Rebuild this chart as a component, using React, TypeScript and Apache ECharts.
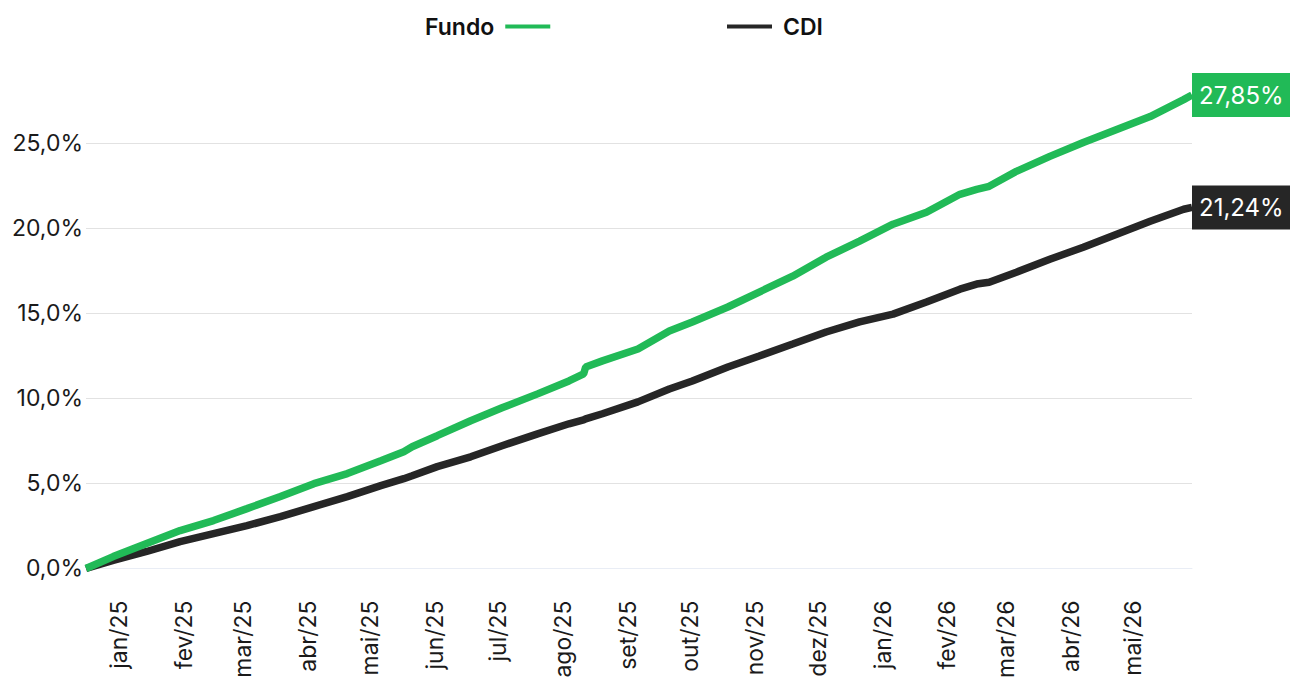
import React, { useEffect, useRef } from "react";
import * as echarts from "echarts";

const dates = [
  "2024-12-16", "2024-12-29", "2025-01-14", "2025-01-30", "2025-02-15",
  "2025-03-03", "2025-03-19", "2025-04-04", "2025-04-20", "2025-05-06",
  "2025-05-17", "2025-05-21", "2025-06-02", "2025-06-18", "2025-07-03",
  "2025-07-20", "2025-08-04", "2025-08-11", "2025-08-12", "2025-08-20",
  "2025-09-06", "2025-09-21", "2025-10-02", "2025-10-19", "2025-11-03",
  "2025-11-19", "2025-12-05", "2025-12-21", "2026-01-06", "2026-01-22",
  "2026-02-07", "2026-02-15", "2026-02-21", "2026-03-06", "2026-03-22",
  "2026-04-07", "2026-04-23", "2026-05-09", "2026-05-25", "2026-05-29",
];

const fundo = [
  0, 0.7, 1.47, 2.23, 2.82, 3.52, 4.23, 4.99, 5.58, 6.34,
  6.87, 7.16, 7.81, 8.69, 9.45, 10.27, 11.03, 11.44, 11.85, 12.21,
  12.91, 13.97, 14.5, 15.38, 16.26, 17.19, 18.31, 19.25, 20.25, 20.95,
  22.01, 22.3, 22.48, 23.36, 24.24, 25.06, 25.82, 26.58, 27.58, 27.85,
];

const cdi = [
  0, 0.47, 1.0, 1.58, 2.05, 2.52, 3.05, 3.64, 4.23, 4.87,
  5.28, 5.45, 5.99, 6.57, 7.22, 7.92, 8.51, 8.74, 8.8, 9.1,
  9.8, 10.56, 11.03, 11.85, 12.5, 13.2, 13.91, 14.5, 14.96, 15.67,
  16.43, 16.73, 16.84, 17.43, 18.19, 18.9, 19.66, 20.42, 21.13, 21.24,
];

const tickDates = [
  "2025-01-01", "2025-02-01", "2025-03-01", "2025-04-01", "2025-05-01",
  "2025-06-01", "2025-07-01", "2025-08-01", "2025-09-01", "2025-10-01",
  "2025-11-01", "2025-12-01", "2026-01-01", "2026-02-01", "2026-03-01",
  "2026-04-01", "2026-05-01",
];
const tickLabels = [
  "jan/25", "fev/25", "mar/25", "abr/25", "mai/25", "jun/25", "jul/25",
  "ago/25", "set/25", "out/25", "nov/25", "dez/25", "jan/26", "fev/26",
  "mar/26", "abr/26", "mai/26",
];

const GREEN = "#21ba57";
const BLACK = "#262626";
const FONT = "Inter";

export default function App() {
  const ref = useRef<HTMLDivElement>(null);

  useEffect(() => {
    document.body.style.margin = "0";
    if (!ref.current) return;
    const chart = echarts.init(ref.current, null, { renderer: "svg" });
    const toTime = (s: string) => echarts.number.parseDate(s).getTime();
    const times = dates.map(toTime);
    const tickTimes = tickDates.map(toTime);
    const fmtPct = (v: number, d: number) => v.toFixed(d).replace(".", ",") + "%";

    chart.setOption({
      animation: false,
      textStyle: { fontFamily: FONT },
      legend: [
        {
          data: ["Fundo"],
          left: 420,
          top: 10,
          align: "right",
          icon: "rect",
          itemWidth: 45,
          itemHeight: 4,
          textStyle: { fontSize: 23, fontWeight: 600, color: "#111", fontFamily: FONT, padding: [0, 6, 0, 0] },
        },
        {
          data: ["CDI"],
          left: 722,
          top: 10,
          align: "left",
          icon: "rect",
          itemWidth: 45,
          itemHeight: 4,
          textStyle: { fontSize: 23, fontWeight: 600, color: "#111", fontFamily: FONT, padding: [0, 0, 0, 6] },
        },
      ],
      grid: { left: 86, right: 98, top: 95, bottom: 111 },
      xAxis: {
        type: "value",
        min: times[0],
        max: times[times.length - 1],
        axisLine: { show: true, lineStyle: { color: "#e9edf5", width: 1 } },
        axisTick: { show: false },
        splitLine: { show: false },
        axisLabel: {
          customValues: tickTimes,
          rotate: 90,
          margin: 32,
          fontSize: 23,
          color: "#1a1a1a",
          fontFamily: FONT,
          formatter: (v: number) => {
            const i = tickTimes.indexOf(v);
            return i >= 0 ? tickLabels[i] : "";
          },
        },
      },
      yAxis: {
        type: "value",
        min: 0,
        max: "dataMax",
        interval: 5,
        axisLine: { show: false },
        axisTick: { show: false },
        splitLine: { show: true, showMinLine: false, showMaxLine: false, lineStyle: { color: "#e2e2e2", width: 1 } },
        axisLabel: {
          showMaxLabel: false,
          margin: 3,
          fontSize: 23,
          color: "#1a1a1a",
          fontFamily: FONT,
          formatter: (v: number) => fmtPct(v, 1),
        },
      },
      series: [
        {
          name: "Fundo",
          type: "line",
          data: times.map((t, i) => [t, fundo[i]]),
          showSymbol: false,
          symbol: "none",
          color: GREEN,
          lineStyle: { color: GREEN, width: 7.5 },
          z: 3,
          endLabel: {
            show: true,
            distance: 0,
            formatter: (p: any) => fmtPct(p.value[1], 2),
            backgroundColor: GREEN,
            color: "#fff",
            fontSize: 24,
            fontFamily: FONT,
            padding: [10, 7, 10, 7],
          },
        },
        {
          name: "CDI",
          type: "line",
          data: times.map((t, i) => [t, cdi[i]]),
          showSymbol: false,
          symbol: "none",
          color: BLACK,
          lineStyle: { color: BLACK, width: 7.5 },
          z: 2,
          endLabel: {
            show: true,
            distance: 0,
            formatter: (p: any) => fmtPct(p.value[1], 2),
            backgroundColor: BLACK,
            color: "#fff",
            fontSize: 24,
            fontFamily: FONT,
            padding: [10, 7, 10, 7],
          },
        },
      ],
    });
    return () => chart.dispose();
  }, []);

  return <div ref={ref} style={{ width: 1290, height: 681 }} />;
}
